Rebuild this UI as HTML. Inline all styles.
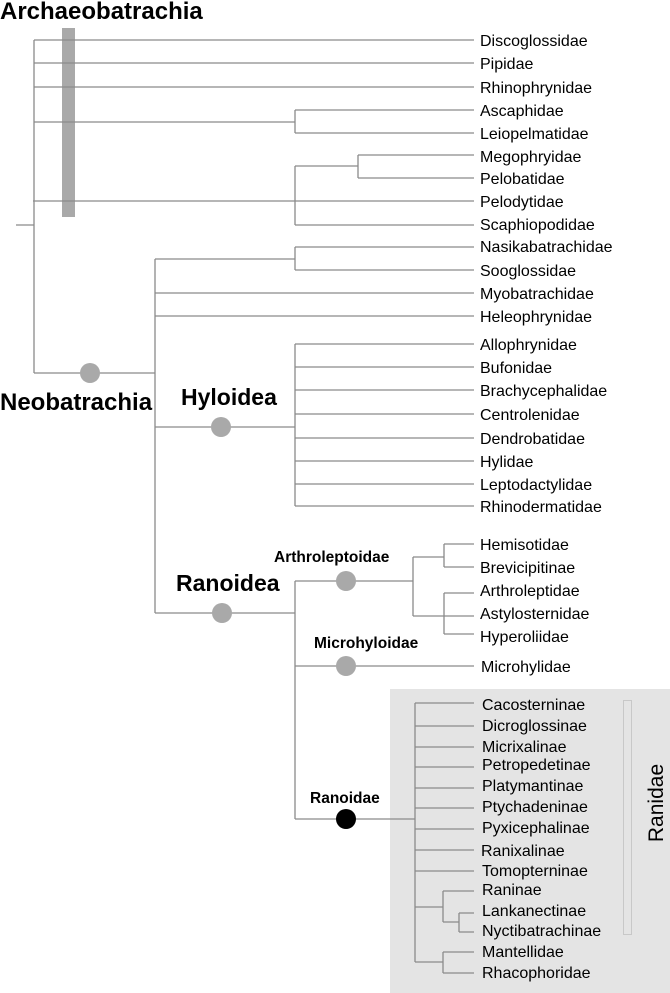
<!DOCTYPE html>
<html><head><meta charset="utf-8"><style>
html,body{margin:0;padding:0;background:#fff;}
svg{display:block;}
text{font-family:"Liberation Sans",Arial,sans-serif;fill:#000;}
.l{font-size:16px;}
.b{font-weight:bold;}
</style></head><body>
<svg width="670" height="993" viewBox="0 0 670 993" xmlns="http://www.w3.org/2000/svg">
<rect x="390" y="689" width="280" height="304" fill="#e4e4e4"/>
<rect x="623.5" y="700.5" width="8" height="234" fill="none" stroke="#c8c8c8" stroke-width="1"/>
<rect x="62" y="28" width="13" height="189" fill="#a9a9a9"/>
<g stroke="#8a8a8a" stroke-width="1.3" fill="none">
<path d="M16 225H34M34 40V373M34 40H474M34 63H474M34 87H474M34 122H295M295 110V133M295 110H474M295 133H474"/>
<path d="M33 201H474M295 166V225M295 166H358M358 155V178M358 155H474M358 178H474M295 225H474"/>
<path d="M34 373H155M155 259V613M155 259H295M295 247V270M295 247H474M295 270H474M155 293H474M155 316H474"/>
<path d="M155 427H295M295 344V506M295 344H474M295 367H474M295 390H474M295 414H474M295 438H474M295 461H474M295 484H474M295 506H474"/>
<path d="M155 613H295M295 581V819M295 581H413M413 557V616M413 557H444M444 544V567M444 544H474M444 567H474M413 616H474M444 593V634M444 593H474M444 634H474"/>
<path d="M295 666H474M295 819H415M415 703V962M415 703H474M415 726H474M415 747H474M415 767H474M415 788H474M415 808H474M415 829H474M415 850H474M415 871H474"/>
<path d="M415 907H443M443 891V922M443 891H474M443 922H459M459 913V932M459 913H474M459 932H474M415 962H443M443 952V973M443 952H474M443 973H474"/>
</g>
<g fill="#a9a9a9">
<circle cx="90" cy="373" r="10"/><circle cx="221" cy="427" r="10"/><circle cx="222" cy="613" r="10"/>
<circle cx="346" cy="581" r="10"/><circle cx="346" cy="666" r="10"/>
</g>
<circle cx="346" cy="819" r="10" fill="#000"/>
<text x="0" y="19" class="b" font-size="24">Archaeobatrachia</text>
<text x="0" y="410" class="b" font-size="24">Neobatrachia</text>
<text x="181" y="405" class="b" font-size="23">Hyloidea</text>
<text x="176" y="591" class="b" font-size="23">Ranoidea</text>
<text x="274" y="562" class="b" font-size="15.5">Arthroleptoidae</text>
<text x="314" y="648" class="b" font-size="15.5">Microhyloidae</text>
<text x="310" y="803" class="b" font-size="15.5">Ranoidae</text>
<text transform="translate(663,803) rotate(-90)" text-anchor="middle" font-size="21">Ranidae</text>
<g class="l">
<text x="480" y="46">Discoglossidae</text>
<text x="480" y="69">Pipidae</text>
<text x="480" y="93">Rhinophrynidae</text>
<text x="480" y="116">Ascaphidae</text>
<text x="480" y="139">Leiopelmatidae</text>
<text x="480" y="162">Megophryidae</text>
<text x="480" y="184">Pelobatidae</text>
<text x="480" y="207">Pelodytidae</text>
<text x="480" y="230">Scaphiopodidae</text>
<text x="480" y="252">Nasikabatrachidae</text>
<text x="480" y="276">Sooglossidae</text>
<text x="480" y="299">Myobatrachidae</text>
<text x="480" y="322">Heleophrynidae</text>
<text x="480" y="350">Allophrynidae</text>
<text x="480" y="373">Bufonidae</text>
<text x="480" y="396">Brachycephalidae</text>
<text x="480" y="420">Centrolenidae</text>
<text x="480" y="444">Dendrobatidae</text>
<text x="480" y="467">Hylidae</text>
<text x="480" y="490">Leptodactylidae</text>
<text x="480" y="512">Rhinodermatidae</text>
<text x="480" y="550">Hemisotidae</text>
<text x="480" y="573">Brevicipitinae</text>
<text x="480" y="596">Arthroleptidae</text>
<text x="480" y="619">Astylosternidae</text>
<text x="480" y="642">Hyperoliidae</text>
<text x="481" y="672">Microhylidae</text>
<text x="482" y="710">Cacosterninae</text>
<text x="482" y="731">Dicroglossinae</text>
<text x="482" y="752">Micrixalinae</text>
<text x="482" y="770">Petropedetinae</text>
<text x="482" y="791">Platymantinae</text>
<text x="482" y="812">Ptychadeninae</text>
<text x="482" y="833">Pyxicephalinae</text>
<text x="481" y="856">Ranixalinae</text>
<text x="482" y="876">Tomopterninae</text>
<text x="482" y="895">Raninae</text>
<text x="482" y="916">Lankanectinae</text>
<text x="482" y="936">Nyctibatrachinae</text>
<text x="482" y="957">Mantellidae</text>
<text x="482" y="978">Rhacophoridae</text>
</g>
</svg>
</body></html>
